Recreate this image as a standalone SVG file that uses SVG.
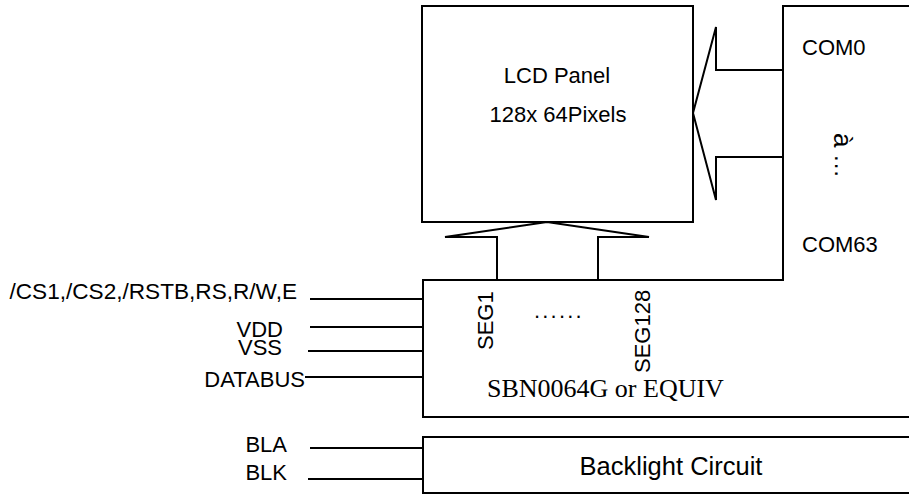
<svg xmlns="http://www.w3.org/2000/svg" width="909" height="495" viewBox="0 0 909 495">
<style>
.ln{fill:none;stroke:#000;stroke-width:2;stroke-linejoin:miter}
.t{font-family:"Liberation Sans",Arial,sans-serif;font-size:22px;fill:#000}
.tm{font-family:"Liberation Serif","Times New Roman",serif;font-size:26px;fill:#000}
</style>
<rect width="909" height="495" fill="#fff"/>
<g id="lcd-panel">
<rect class="ln" x="422" y="6" width="271" height="216"/>
<text class="t" x="557" y="83" text-anchor="middle">LCD Panel</text>
<text class="t" x="558" y="122" text-anchor="middle">128x 64Pixels</text>
</g>
<g id="controller">
<path class="ln" d="M912 6H783V280H423V417H912"/>
<text class="t" x="802" y="55">COM0</text>
<text class="t" x="802" y="252">COM63</text>
<g transform="translate(834,133)"><g transform="rotate(90)"><text class="t" x="0" y="0" style="font-size:26px">à</text></g></g>
<text class="t" style="font-size:24px" transform="translate(835,154) rotate(90)">…</text>
<text class="t" transform="translate(493,350) rotate(-90)">SEG1</text>
<text class="t" transform="translate(650,373) rotate(-90)">SEG128</text>
<text class="t" x="534" y="318" letter-spacing="2.2">......</text>
<text class="tm" x="487" y="397">SBN0064G or EQUIV</text>
</g>
<g id="backlight">
<path class="ln" d="M912 437H423V493H912"/>
<text class="t" style="font-size:25.5px" x="671" y="475" text-anchor="middle">Backlight Circuit</text>
</g>
<g id="com-bus">
<polyline class="ln" points="783,70 716,70 716,27 693,113 716,200 716,157 783,157"/>
</g>
<g id="seg-bus">
<polyline class="ln" points="497,280 497,237 445,237 547,222 649,237 598,237 598,280"/>
</g>
<g id="signal-labels">
<text class="t" style="font-size:22.6px" x="297" y="299" text-anchor="end">/CS1,/CS2,/RSTB,RS,R/W,E</text>
<text class="t" x="283" y="337" text-anchor="end">VDD</text>
<text class="t" x="282" y="355" text-anchor="end">VSS</text>
<text class="t" x="305" y="387" text-anchor="end">DATABUS</text>
<text class="t" x="287" y="452" text-anchor="end">BLA</text>
<text class="t" x="287" y="480" text-anchor="end">BLK</text>
</g>
<g id="connectors">
<line class="ln" x1="310" y1="299" x2="423" y2="299"/>
<line class="ln" x1="310" y1="327" x2="423" y2="327"/>
<line class="ln" x1="308" y1="351" x2="423" y2="351"/>
<line class="ln" x1="305" y1="377" x2="423" y2="377"/>
<line class="ln" x1="310" y1="448" x2="423" y2="448"/>
<line class="ln" x1="308" y1="479" x2="423" y2="479"/>
</g>
</svg>
